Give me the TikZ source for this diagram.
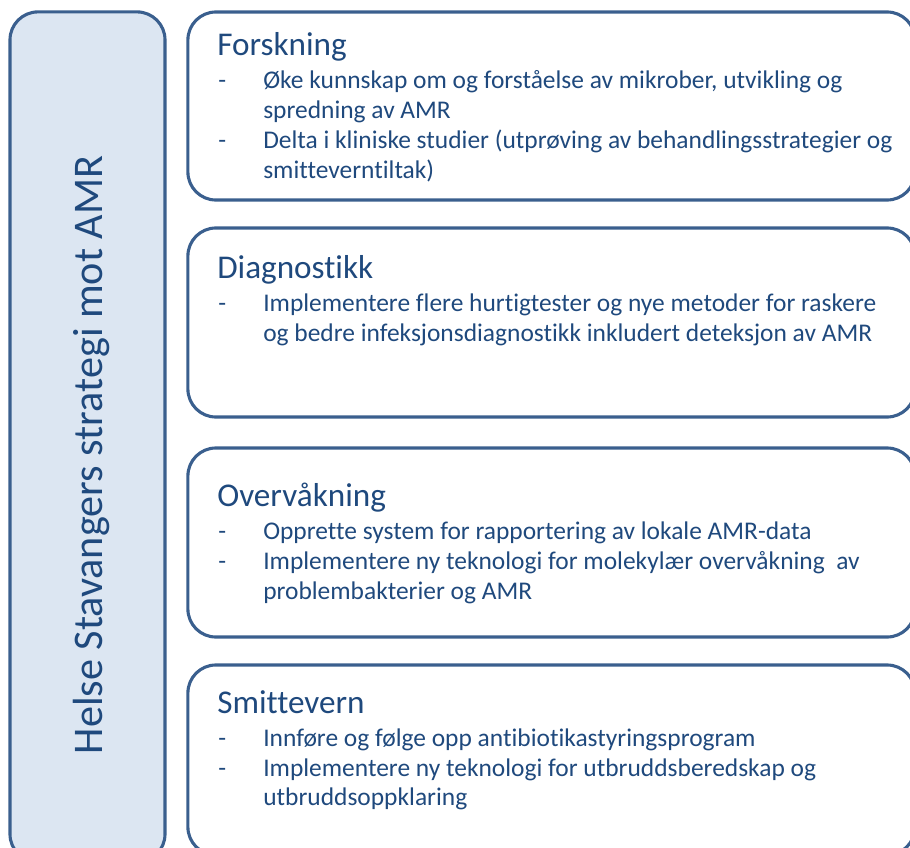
\documentclass[tikz,border=0pt]{standalone}
\usepackage{fontspec}
\setmainfont{Carlito}[Ligatures=NoCommon]
\usepackage{xcolor}
\definecolor{tekstblaa}{HTML}{1F497D}
\definecolor{rammeblaa}{HTML}{3A5F8E}
\definecolor{fyllblaa}{HTML}{DCE6F2}

\begin{document}
\begin{tikzpicture}[x=0.025cm,y=-0.025cm,
    boks/.style={draw=rammeblaa,line width=2.2pt,rounded corners=0.7cm,inner sep=0pt},
    tittel/.style={anchor=base west,inner sep=0pt,text=tekstblaa,font=\fontsize{23.6}{28}\selectfont},
    tekst/.style={anchor=base west,inner sep=0pt,text=tekstblaa,font=\fontsize{18.1}{22}\selectfont}]
    \useasboundingbox (0,0) rectangle (910,848);
    \clip (0,0) rectangle (910,848);
    % strategy bar
    \node[boks,fill=fyllblaa,minimum width=3.875cm,minimum height=21.25cm] (strategi) at (87.5,437) {};
    \node[rotate=90,anchor=base,inner sep=0pt,text=tekstblaa,font=\fontsize{30}{36}\selectfont] (strategitekst) at (102,455) {Helse Stavangers strategi mot AMR};
    % boxes
    \node[boks,minimum width=18.175cm,minimum height=4.7cm] (forskning) at (551.5,106) {};
    \node[boks,minimum width=18.175cm,minimum height=4.725cm] (diagnostikk) at (551.5,322.5) {};
    \node[boks,minimum width=18.175cm,minimum height=4.725cm] (overvaakning) at (551.5,542.5) {};
    \node[boks,minimum width=18.175cm,minimum height=4.75cm] (smittevern) at (551.5,760) {};
    % forskning
    \node[tittel] (forsktittel) at (217,55) {Forskning};
    \node[tekst] (forsk1s) at (218,88) {-};
    \node[tekst] (forsk1) at (263,88) {Øke kunnskap om og forståelse av mikrober, utvikling og};
    \node[tekst] (forsk1b) at (263,118) {spredning av AMR};
    \node[tekst] (forsk2s) at (218,148) {-};
    \node[tekst] (forsk2) at (263,148) {Delta i kliniske studier (utprøving av behandlingsstrategier og};
    \node[tekst] (forsk2b) at (263,178) {smitteverntiltak)};
    % diagnostikk
    \node[tittel] (diagtittel) at (217,278) {Diagnostikk};
    \node[tekst] (diag1s) at (218,311) {-};
    \node[tekst] (diag1) at (263,311) {Implementere flere hurtigtester og nye metoder for raskere};
    \node[tekst] (diag1b) at (263,341) {og bedre infeksjonsdiagnostikk inkludert deteksjon av AMR};
    % overvaakning
    \node[tittel] (overvtittel) at (217,506) {Overvåkning};
    \node[tekst] (overv1s) at (218,539) {-};
    \node[tekst] (overv1) at (263,539) {Opprette system for rapportering av lokale AMR-data};
    \node[tekst] (overv2s) at (218,569) {-};
    \node[tekst] (overv2) at (263,569) {Implementere ny teknologi for molekylær overvåkning\ \ av};
    \node[tekst] (overv2b) at (263,599) {problembakterier og AMR};
    % smittevern
    \node[tittel] (smittetittel) at (217,713) {Smittevern};
    \node[tekst] (smitte1s) at (218,746) {-};
    \node[tekst] (smitte1) at (263,746) {Innføre og følge opp antibiotikastyringsprogram};
    \node[tekst] (smitte2s) at (218,776) {-};
    \node[tekst] (smitte2) at (263,776) {Implementere ny teknologi for utbruddsberedskap og};
    \node[tekst] (smitte2b) at (263,805) {utbruddsoppklaring};
\end{tikzpicture}
\end{document}
